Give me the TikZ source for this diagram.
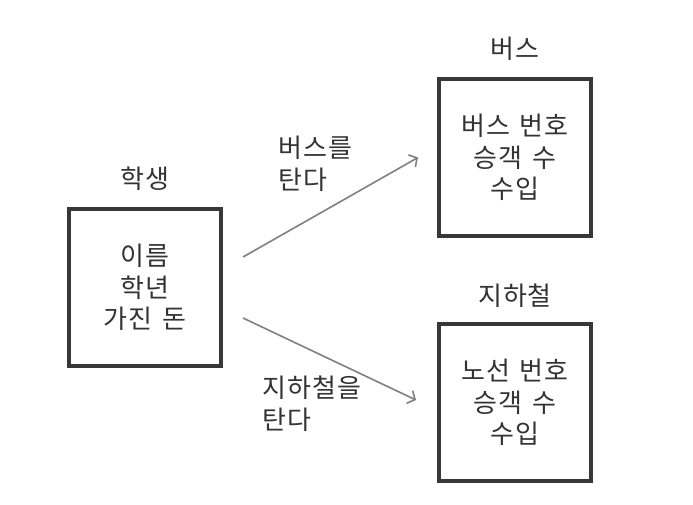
\documentclass[tikz,border=0pt]{standalone}
\usepackage{fontspec}
\setmainfont{Noto Sans CJK KR}[LetterSpace=4,WordSpace=1.4]
\usetikzlibrary{arrows.meta,calc,positioning}

\begin{document}
\begin{tikzpicture}[
  x=1pt,y=-1pt,
  box/.style={draw=black!78,line width=4pt,align=center,minimum width=152pt,minimum height=157pt,
    text=black!80,font=\fontsize{26}{31.5}\selectfont},
  lbl/.style={text=black!80,font=\fontsize{26}{31.5}\selectfont,inner sep=0pt},
  arr/.style={-{Straight Barb[length=6pt,width=14pt]},draw=black!50,line width=1.6pt}
]
\useasboundingbox[fill=white] (0,0) rectangle (693,505);
% classes
\node[box] (stu) at (145,287.5) {이름\\학년\\가진 돈};
\node[box] (bus) at (515,157.5) {버스 번호\\승객 수\\수입};
\node[box] (sub) at (515,402.5) {노선 번호\\승객 수\\수입};
\node[lbl,above=16pt of stu] (stulbl) {학생};
\node[lbl,above=16pt of bus] (buslbl) {버스};
\node[lbl,above=14pt of sub] (sublbl) {지하철};
% relations
\draw[arr] ($(stu.east)+(20,-30.5)$) -- ($(bus.west)+(-19,0)$);
\draw[arr] ($(stu.east)+(20,30.5)$) -- ($(sub.west)+(-21,-2.5)$);
\node[lbl,align=left,anchor=north west] (ridebus) at (278,136) {버스를\\탄다};
\node[lbl,align=left,anchor=north west] (ridesub) at (262,376) {지하철을\\탄다};
\end{tikzpicture}
\end{document}
